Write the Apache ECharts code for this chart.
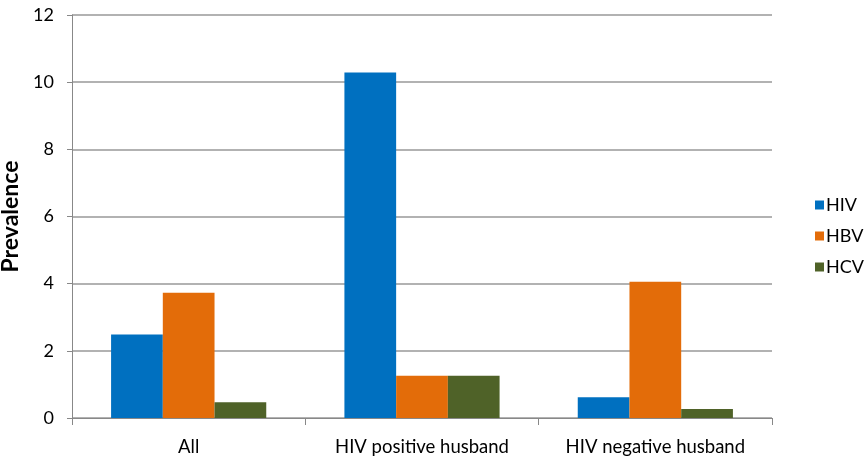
<!DOCTYPE html>
<html><head><meta charset="utf-8">
<script src="https://cdn.jsdelivr.net/npm/echarts@6/dist/echarts.min.js"></script>
<style>html,body{margin:0;padding:0;background:#fff}#c{width:868px;height:471px}</style>
</head><body><div id="c"></div>
<script>
const categories = ['All', 'HIV positive husband', 'HIV negative husband'];
const hiv = [2.49, 10.29, 0.62];
const hbv = [3.73, 1.26, 4.06];
const hcv = [0.47, 1.26, 0.27];
const seriesNames = ['HIV', 'HBV', 'HCV'];
const colors = ['#0070C0', '#E36C09', '#4F6228'];
const yTicks = [0, 2, 4, 6, 8, 10, 12];

const font = 'Lato, "Open Sans", sans-serif';
const chart = echarts.init(document.getElementById('c'), null, {renderer: 'canvas'});
chart.setOption({
  animation: false,
  backgroundColor: '#fff',
  grid: {left: 72, right: 96, top: 15, bottom: 53, containLabel: false, outerBoundsMode: 'none'},
  legend: {
    orient: 'vertical', left: 810, top: 191, itemGap: 13,
    itemWidth: 9, itemHeight: 9, icon: 'rect',
    textStyle: {fontFamily: font, fontSize: 18, color: '#000', padding: [0,0,0,-3]},
    data: seriesNames
  },
  xAxis: {
    type: 'category', data: categories,
    axisLine: {lineStyle: {color: '#888', width: 1}},
    axisTick: {show: true, length: 7, lineStyle: {color: '#888'}},
    axisLabel: {fontFamily: font, fontSize: 18.5, color: '#000', margin: 20}
  },
  yAxis: {
    type: 'value', min: yTicks[0], max: yTicks[yTicks.length - 1], interval: 2,
    name: 'Prevalence', nameLocation: 'middle', nameGap: 50, nameRotate: 90,
    nameTextStyle: {fontFamily: font, fontSize: 23, fontWeight: 'bold', color: '#000'},
    axisLine: {show: true, lineStyle: {color: '#888'}},
    axisTick: {show: true, length: 5, lineStyle: {color: '#888'}},
    axisLabel: {fontFamily: font, fontSize: 18, color: '#000', margin: 18},
    splitLine: {lineStyle: {color: '#999', width: 1.5}}
  },
  series: [hiv, hbv, hcv].map((d, i) => ({
    name: seriesNames[i], type: 'bar', data: d,
    barGap: '0%', barCategoryGap: '33.5%',
    itemStyle: {color: colors[i]}
  }))
});
</script></body></html>
